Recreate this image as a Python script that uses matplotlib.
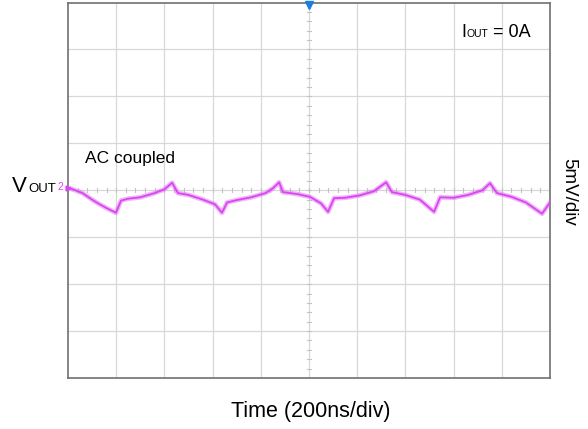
import numpy as np
import matplotlib.pyplot as plt

plt.rcParams['font.family'] = ['Liberation Sans', 'DejaVu Sans']

# ripple trace (time in ns, voltage in mV, AC coupled)
t_ns = [0, 30, 60, 100, 125, 160, 199, 220, 250, 300, 360, 400, 432, 456,
        500, 560, 610, 639, 660, 700, 760, 820, 850, 876, 892, 950, 1004,
        1050, 1079, 1104, 1150, 1210, 1270, 1320, 1344, 1400, 1460, 1519,
        1544, 1600, 1660, 1720, 1751, 1780, 1840, 1900, 1967, 2000]
v_mv = [0.3, 0.0, -0.3, -1.0, -1.4, -1.9, -2.4, -1.1, -0.9, -0.75, -0.3, 0.1, 0.8, -0.3,
        -0.5, -1.0, -1.5, -2.4, -1.3, -1.05, -0.75, -0.3, 0.2, 0.85, -0.2, -0.4, -0.7,
        -1.4, -2.3, -0.85, -0.8, -0.55, -0.1, 0.85, -0.2, -0.5, -1.0, -2.3,
        -0.75, -0.8, -0.5, 0.0, 0.75, -0.3, -0.7, -1.3, -2.5, -1.3]

x_divs = 10
y_divs = 8
ns_per_div = 200
mv_per_div = 5

fig = plt.figure(figsize=(5.88, 4.29), dpi=100)
ax = fig.add_axes([68 / 588, 1 - 378 / 429, 482 / 588, 375.5 / 429])

xmax = x_divs * ns_per_div
ymax = y_divs / 2 * mv_per_div
ax.set_xlim(0, xmax)
ax.set_ylim(-ymax, ymax)

grid_c = '#d8d8d8'
for i in range(1, x_divs):
    ax.axvline(i * ns_per_div, color=grid_c, lw=0.9, zorder=1)
for j in range(1, y_divs):
    ax.axhline(-ymax + j * mv_per_div, color=grid_c, lw=0.9, zorder=1)

# minor ticks on the centre cross
for k in range(1, x_divs * 5):
    xx = k * ns_per_div / 5
    ax.plot([xx, xx], [-0.22, 0.22], color='#c4c4c4', lw=0.8, zorder=1)
for k in range(1, y_divs * 5):
    yy = -ymax + k * mv_per_div / 5
    ax.plot([xmax / 2 - 7, xmax / 2 + 7], [yy, yy], color='#c4c4c4', lw=0.8, zorder=1)

ax.plot(t_ns, v_mv, color='#e36cf5', lw=3.4, alpha=0.5, zorder=3, solid_joinstyle='round')
ax.plot(t_ns, v_mv, color='#d945f0', lw=1.3, zorder=4)

for s in ax.spines.values():
    s.set_color('#707070')
    s.set_linewidth(1.2)
ax.set_xticks([])
ax.set_yticks([])

# trigger marker
ax.plot([xmax / 2], [ymax - 0.3], marker='v', color='#1e7be0', markersize=6,
        clip_on=False, zorder=5)

ax.text(70, 3.4, 'AC coupled', fontsize=12.5, ha='left', va='center')

fig.text(461 / 588, 1 - 37 / 429, 'I', fontsize=13, ha='left', va='baseline')
fig.text(466.5 / 588, 1 - 37 / 429, 'OUT', fontsize=7.5, ha='left', va='baseline')
fig.text(493 / 588, 1 - 37 / 429, '= 0A', fontsize=13, ha='left', va='baseline')

fig.text(12 / 588, 1 - 192 / 429, 'V', fontsize=16, ha='left', va='baseline')
fig.text(28.5 / 588, 1 - 192 / 429, 'OUT', fontsize=9.5, ha='left', va='baseline')
fig.text(57.5 / 588, 1 - 187 / 429, '2', fontsize=7.5, color='#d945f0', ha='left', va='center')
ax.plot([0], [0.2], marker='>', color='#d945f0', markersize=3.5, clip_on=False, zorder=5)

fig.text(569 / 588, 1 - 192 / 429, '5mV/div', fontsize=13.5, rotation=270,
         ha='center', va='center')
fig.text(311 / 588, 1 - 411 / 429, 'Time (200ns/div)', fontsize=15.5, ha='center', va='center')

fig.savefig('out.png', dpi=100)
